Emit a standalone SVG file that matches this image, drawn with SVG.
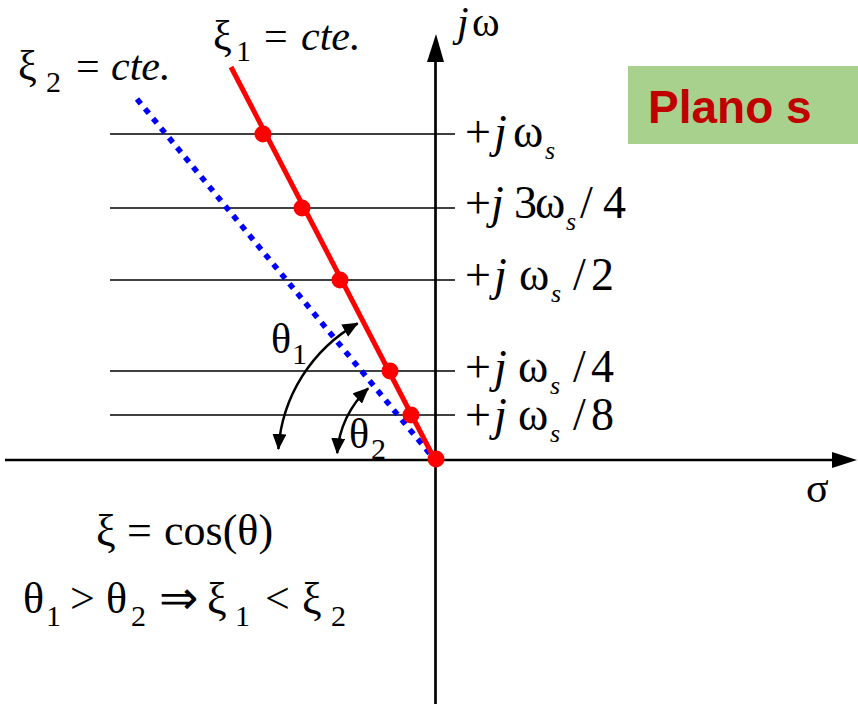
<svg xmlns="http://www.w3.org/2000/svg" width="858" height="704" viewBox="0 0 858 704">
<defs>
<style>
.grid{stroke:#000;stroke-width:1.6;fill:none}
.axis{stroke:#000;stroke-width:2.7;fill:none}
.arc{stroke:#000;stroke-width:2.5;fill:none;marker-start:url(#ah);marker-end:url(#ah)}
.dot{fill:#ff0000}
.i{font-style:italic}
</style>
<marker id="ah" viewBox="0 0 16 14" refX="15" refY="7" markerWidth="16" markerHeight="14" markerUnits="userSpaceOnUse" orient="auto-start-reverse">
<path d="M0,0 L16,7 L0,14 Z" fill="#000"/>
</marker>
</defs>
<rect width="858" height="704" fill="#fff"/>

<g id="grid-lines">
<line class="grid" x1="110" y1="134" x2="455" y2="134"/>
<line class="grid" x1="110" y1="208" x2="455" y2="208"/>
<line class="grid" x1="110" y1="280" x2="455" y2="280"/>
<line class="grid" x1="110" y1="371" x2="455" y2="371"/>
<line class="grid" x1="110" y1="415" x2="455" y2="415"/>
</g>

<g font-family="'Liberation Serif', 'Times New Roman', serif" fill="#000">
<g id="axes">
<line class="axis" x1="5" y1="460" x2="834" y2="460"/>
<polygon points="857,460 832,452 832,468" fill="#000"/>
<line class="axis" x1="435.5" y1="58" x2="435.5" y2="704"/>
<polygon points="436,34 427,62 444,62" fill="#000"/>
<text font-size="42" x="457" y="36"><tspan class="i">j</tspan><tspan x="472">ω</tspan></text>
<text font-size="42" x="806" y="502">σ</text>
</g>

<g id="blue-line">
<line x1="137" y1="99" x2="430" y2="454" stroke="#0000ff" stroke-width="5.5" stroke-dasharray="6 6.6"/>
</g>

<g id="red-line">
<line x1="231" y1="67" x2="435" y2="460" stroke="#ff0000" stroke-width="5"/>
<circle class="dot" cx="263" cy="134" r="8.5"/>
<circle class="dot" cx="302" cy="208" r="8.5"/>
<circle class="dot" cx="340" cy="280" r="8.5"/>
<circle class="dot" cx="390" cy="371" r="8.5"/>
<circle class="dot" cx="411" cy="415" r="8.5"/>
<circle class="dot" cx="436" cy="459" r="8.5"/>
</g>

<g id="angle-arcs">
<path class="arc" d="M278.4,449 A157,157 0 0 1 357.7,323.3"/>
<path class="arc" d="M337.2,453.2 A98,98 0 0 1 368.2,388.3"/>
<text font-size="42" x="271" y="353">θ<tspan font-size="30" x="292" y="364">1</tspan></text>
<text font-size="42" x="349" y="448">θ<tspan font-size="30" x="371" y="459">2</tspan></text>
</g>

<g id="label-xi1">
<text font-size="42" x="213" y="50">ξ<tspan font-size="30" x="236" y="61">1</tspan><tspan x="264" y="50">=</tspan><tspan class="i" x="301" y="50">cte.</tspan></text>
</g>
<g id="label-xi2">
<text font-size="42" x="18" y="80">ξ<tspan font-size="30" x="46" y="92">2</tspan><tspan x="76" y="80">=</tspan><tspan class="i" x="111" y="80">cte.</tspan></text>
</g>

<g id="freq-labels">
<text font-size="46" x="465" y="147">+<tspan class="i" x="494">j</tspan><tspan x="513">ω</tspan><tspan class="i" font-size="26" x="545" y="159">s</tspan></text>
<text font-size="46" x="465" y="218">+<tspan class="i" x="491">j</tspan><tspan x="514">3</tspan><tspan x="535">ω</tspan><tspan class="i" font-size="26" x="566" y="230">s</tspan><tspan x="580" y="218">/</tspan><tspan x="603" y="218">4</tspan></text>
<text font-size="46" x="465" y="290">+<tspan class="i" x="494">j</tspan><tspan x="519">ω</tspan><tspan class="i" font-size="26" x="551" y="302">s</tspan><tspan x="573" y="290">/</tspan><tspan x="591" y="290">2</tspan></text>
<text font-size="46" x="465" y="382">+<tspan class="i" x="494">j</tspan><tspan x="518">ω</tspan><tspan class="i" font-size="26" x="550" y="394">s</tspan><tspan x="573" y="382">/</tspan><tspan x="591" y="382">4</tspan></text>
<text font-size="46" x="465" y="430">+<tspan class="i" x="494">j</tspan><tspan x="518">ω</tspan><tspan class="i" font-size="26" x="550" y="442">s</tspan><tspan x="573" y="430">/</tspan><tspan x="591" y="430">8</tspan></text>
</g>

<g id="equations">
<text font-size="44" x="96" y="545">ξ<tspan x="127">=</tspan><tspan x="164">cos(θ)</tspan></text>
<text font-size="44" x="23" y="613">θ<tspan font-size="30" x="46" y="626">1</tspan><tspan x="70" y="613">&gt;</tspan><tspan x="106" y="613">θ</tspan><tspan font-size="30" x="131" y="626">2</tspan><tspan font-size="47" x="159" y="614">⇒</tspan><tspan x="207" y="613">ξ</tspan><tspan font-size="30" x="235" y="626">1</tspan><tspan x="265" y="613">&lt;</tspan><tspan x="302" y="613">ξ</tspan><tspan font-size="30" x="331" y="626">2</tspan></text>
</g>
</g>

<g id="plano-s">
<rect x="628" y="66" width="230" height="78" fill="#a9d18e"/>
<text x="648" y="123" font-family="'Liberation Sans', Arial, sans-serif" font-weight="bold" font-size="46" fill="#c00000">Plano s</text>
</g>
</svg>
